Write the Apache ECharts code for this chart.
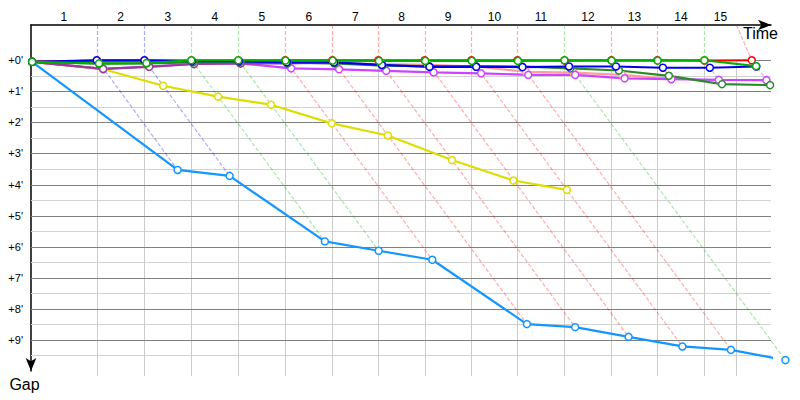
<!DOCTYPE html>
<html>
<head>
<meta charset="utf-8">
<script src="https://cdn.jsdelivr.net/npm/echarts@6/dist/echarts.min.js"></script>
<style>
html,body{margin:0;padding:0;background:#ffffff;}
#chart{width:800px;height:400px;}
</style>
</head>
<body>
<div id="chart"></div>
<script>
// ---- data (minutes) ----
const lapLabels = ['1','2','3','4','5','6','7','8','9','10','11','12','13','14','15'];
// time grid lines (start, leader lap crossings 1-14, race time limit)
const dividers = [0, 2.87, 4.95, 7.00, 9.05, 11.10, 13.16, 15.17, 17.19, 19.23, 21.24, 23.29, 25.34, 27.35, 29.40, 30.80];
// leader crossing time at each lap
const lapTimes = [2.87, 4.95, 7.00, 9.05, 11.10, 13.16, 15.17, 17.19, 19.23, 21.24, 23.29, 25.34, 27.35, 29.40, 31.47];
const majorGaps = [0, 1, 2, 3, 4, 5, 6, 7, 8, 9];
const minorGaps = [0.5, 1.5, 2.5, 3.5, 4.5, 5.5, 6.5, 7.5, 8.5, 9.5];

// gap to leader per car: index 0 = start, then laps 1..n
const gapLightBlue = [0.05, 3.53, 3.72, 5.83, 6.13, 6.42, 8.49, 8.59, 8.90, 9.21, 9.32, 9.65];
const gapYellow    = [0.05, 0.29, 0.82, 1.17, 1.43, 2.03, 2.42, 3.21, 3.87, 4.17];
const gapPink      = [0.05, 0.04, 0.05, 0.05, 0.06, 0.08, 0.10, 0.12, 0.15, 0.20, 0.37, 0.40, 0.47, 0.60];
const gapViolet    = [0.05, 0.28, 0.20, 0.12, 0.10, 0.26, 0.29, 0.34, 0.39, 0.42, 0.47, 0.47, 0.58, 0.61, 0.63, 0.64];
const gapPurple    = [0.05, 0.28, 0.21, 0.12, 0.10, 0.10, 0.065];
const gapDarkGreen = [0.05, 0.11, 0.10, 0.07, 0.06, 0.08, 0.10, 0.17, 0.19, 0.19, 0.20, 0.26, 0.33, 0.50, 0.77, 0.80];
const gapRed       = [0.05, 0.01, 0.01, 0.01, 0.01, 0, 0, 0, 0, 0, 0, 0.01, 0, 0, 0.01, 0];
const gapBlue      = [0.05, 0, 0, 0.03, 0.03, 0.065, 0.07, 0.15, 0.21, 0.21, 0.22, 0.20, 0.20, 0.24, 0.24, 0.20];
const gapGreen     = [0.05, 0.10, 0.09, 0, 0, 0.01, 0.01, 0.02, 0.02, 0.02, 0.02, 0, 0.01, 0.01, 0, 0.19];

const carNames = ['Light blue','Yellow','Pink','Violet','Purple','Dark green','Red','Blue','Green'];
const carGaps = [gapLightBlue, gapYellow, gapPink, gapViolet, gapPurple, gapDarkGreen, gapRed, gapBlue, gapGreen];
// styles
const carColors = ['#1496ff','#dddd00','#ff9c9c','#cc44ff','#993d99','#2a8a2a','#ff0000','#0000ee','#00b000'];

// ---- derived: leader and deepest gap at each lap ----
function rgba(hex, a){
  const n = parseInt(hex.slice(1), 16);
  return 'rgba(' + ((n>>16)&255) + ',' + ((n>>8)&255) + ',' + (n&255) + ',' + a + ')';
}
const lapLeaderColor = [];
const lapMaxGap = [];
lapTimes.forEach((t, i) => {
  let minG = Infinity, maxG = 0, leader = 0;
  carGaps.forEach((g, c) => {
    if (g.length > i + 1) {
      if (g[i+1] < minG) { minG = g[i+1]; leader = c; }
      if (g[i+1] > maxG) maxG = g[i+1];
    }
  });
  lapLeaderColor.push(rgba(carColors[leader], 0.33));
  lapMaxGap.push(maxG);
});

const FONT = '"Liberation Sans", Arial, sans-serif';
const crisp = v => Math.round(v) + 0.5;

function renderGrid(params, api){
  const cs = params.coordSys;
  const left = cs.x, right = cs.x + cs.width, bottom = cs.y + cs.height + 5;
  const els = [];
  minorGaps.forEach(g => {
    const y = crisp(api.coord([0, g])[1]);
    els.push({type:'line', shape:{x1:left, y1:y, x2:right, y2:y}, style:{stroke:'#d2d2d2', lineWidth:1}});
  });
  dividers.slice(1).forEach(t => {
    const p = api.coord([t, 0]);
    const x = crisp(p[0]);
    els.push({type:'line', shape:{x1:x, y1:p[1], x2:x, y2:bottom}, style:{stroke:'#cccccc', lineWidth:1}});
  });
  majorGaps.forEach(g => {
    const y = crisp(api.coord([0, g])[1]);
    els.push({type:'line', shape:{x1:left, y1:y, x2:right, y2:y}, style:{stroke:'#808080', lineWidth:1}});
  });
  lapLabels.forEach((lab, i) => {
    const x = api.coord([(dividers[i] + dividers[i+1]) / 2, 0])[0];
    els.push({type:'text', x: x, y: cs.y - 8,
      style:{text: lab, fill:'#000', font: '12px ' + FONT, align:'center', verticalAlign:'middle'}});
  });
  return {type:'group', children: els};
}

function renderLap(params, api){
  const i = params.dataIndex;
  const cs = params.coordSys;
  const topX = api.coord([dividers[i+1], 0])[0];
  const p0 = api.coord([lapTimes[i], 0]);
  const G = lapMaxGap[i];
  const p1 = api.coord([lapTimes[i] + G, G]);
  const vertical = Math.abs(topX - p0[0]) < 0.5;
  const x0 = vertical ? crisp(p0[0]) : p0[0];
  return {type:'polyline',
    shape:{points:[[vertical ? x0 : topX, cs.y], [x0, p0[1]], p1]},
    style:{stroke: lapLeaderColor[i], lineWidth: 1.2, lineDash:[4, 2], fill: null}};
}

const series = [
  {type:'custom', name:'grid', renderItem: renderGrid, data:[[0, 0]], clip:false, silent:true, z:1},
  {type:'custom', name:'laps', renderItem: renderLap, data: lapTimes.map(t => [t, 0]), clip:false, silent:true, z:1}
];
carNames.forEach((name, c) => {
  const gaps = carGaps[c];
  series.push({
    type:'line', name: name,
    data: gaps.map((g, i) => [(i === 0 ? 0 : lapTimes[i-1]) + g, g]),
    symbol:'circle', symbolSize:7, showAllSymbol:true, clip:false,
    lineStyle:{color: carColors[c], width:2.2},
    itemStyle:{color:'#ffffff', borderColor: carColors[c], borderWidth:1.5},
    emphasis:{disabled:true},
    z:3
  });
});

const chart = echarts.init(document.getElementById('chart'), null, {renderer:'svg'});
chart.setOption({
  animation:false,
  backgroundColor:'#ffffff',
  textStyle:{fontFamily: FONT},
  grid:{left:31, right:29, top:25, bottom:29, containLabel:false},
  xAxis:{
    type:'value', position:'top', min:0, max:32.31,
    name:'Time', nameLocation:'end', nameGap:7,
    nameTextStyle:{fontSize:16, color:'#000', align:'right', verticalAlign:'top', fontFamily: FONT},
    axisLine:{show:true, onZero:false, symbol:['none','arrow'], symbolSize:[8,13], lineStyle:{color:'#000', width:1.5}},
    axisTick:{show:false}, axisLabel:{show:false}, splitLine:{show:false}
  },
  yAxis:{
    type:'value', inverse:true, min:-1.135, max:10,
    name:'Gap', nameLocation:'end', nameGap:5,
    nameTextStyle:{fontSize:16, color:'#000', align:'center', verticalAlign:'top', padding:[0,13,0,0], fontFamily: FONT},
    axisLine:{show:true, onZero:false, symbol:['arrow','none'], symbolSize:[8,13], lineStyle:{color:'#000', width:1.5}},
    axisTick:{show:false},
    axisLabel:{show:true, customValues: majorGaps, formatter: v => '+' + v + "'", color:'#000', fontSize:11, margin:8, fontFamily: FONT},
    splitLine:{show:false}
  },
  series: series
});
</script>
</body>
</html>
